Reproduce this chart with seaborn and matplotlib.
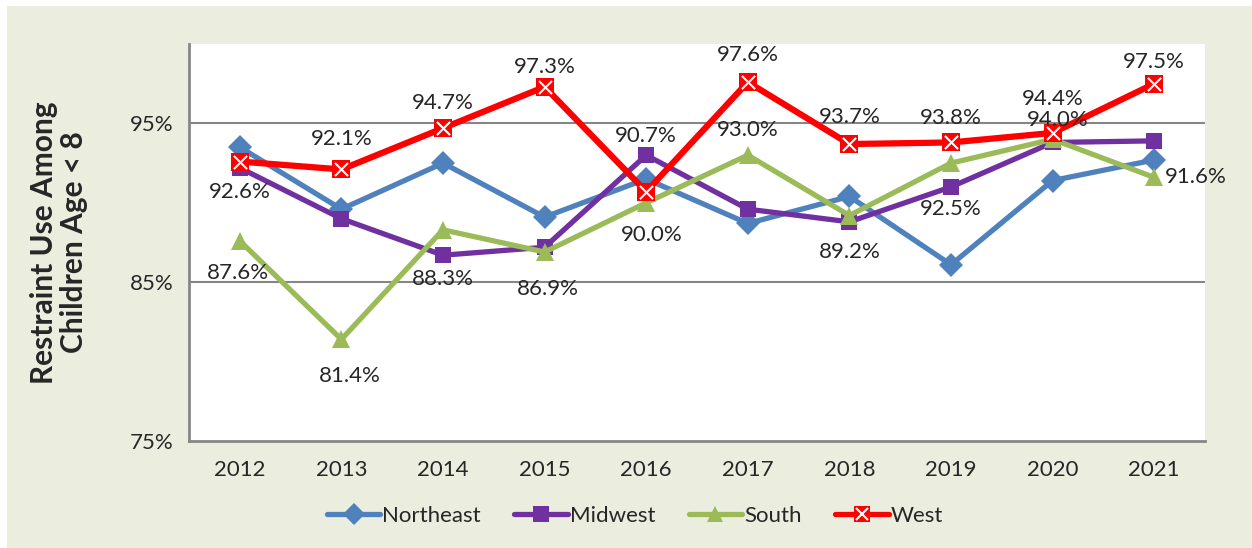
import numpy as np
import pandas as pd
import seaborn as sns
import matplotlib.pyplot as plt
from matplotlib.lines import Line2D
from matplotlib.patches import Rectangle

years = [2012, 2013, 2014, 2015, 2016, 2017, 2018, 2019, 2020, 2021]
northeast = [93.5, 89.6, 92.5, 89.1, 91.5, 88.7, 90.4, 86.1, 91.4, 92.7]
midwest = [92.2, 89.0, 86.7, 87.2, 93.0, 89.6, 88.8, 91.0, 93.8, 93.9]
south = [87.6, 81.4, 88.3, 86.9, 90.0, 93.0, 89.2, 92.5, 94.0, 91.6]
west = [92.6, 92.1, 94.7, 97.3, 90.7, 97.6, 93.7, 93.8, 94.4, 97.5]
regions = ['Northeast', 'Midwest', 'South', 'West']

# label offsets in pixels (x, y) from the marker
west_off = [(0, -30), (0, 30), (0, 25), (0, 20), (0, 56), (0, 27), (0, 27), (0, 24), (0, 34), (0, 22)]
south_off = [(-2, -32), (8, -37), (0, -49), (3, -37), (6, -32), (0, 25), (0, -36), (0, -46), (5, 19), (42, 0)]

df = pd.DataFrame({
    'year': years * 4,
    'value': northeast + midwest + south + west,
    'region': [r for r in regions for _ in years],
})

colors = {'Northeast': '#4F81BD', 'Midwest': '#7030A0', 'South': '#9BBB59', 'West': '#FF0000'}
markers = {'Northeast': 'D', 'Midwest': 's', 'South': '^', 'West': 's'}

sns.set_style('white')
plt.rcParams['font.family'] = ['Lato', 'DejaVu Sans']

fig = plt.figure(figsize=(12.52, 5.48), dpi=100)
fig.patches.append(Rectangle((7 / 1252, 0), 1 - 7 / 1252, 1 - 6 / 548, transform=fig.transFigure,
                             facecolor='#EBEEDF', edgecolor='none', zorder=-1))
ax = fig.add_axes([189 / 1252, 1 - 441 / 548, (1205 - 189) / 1252, (441 - 44) / 548])

sns.lineplot(data=df, x='year', y='value', hue='region', style='region', palette=colors,
             markers=markers, dashes=False, linewidth=3.8, markersize=11, markeredgewidth=0,
             legend=False, ax=ax)
for ln in ax.lines:
    ln.set_solid_capstyle('round')
ax.lines[3].set_linewidth(4.5)
ax.lines[3].set_markersize(13)
ax.lines[0].set_markersize(12)
ax.lines[1].set_markersize(12)
ax.lines[2].set_markersize(13)
sns.scatterplot(x=years, y=west, marker='x', color='white', s=90, linewidth=1.5, zorder=5, ax=ax)

for x, y, (dx, dy) in zip(years, west, west_off):
    ax.annotate(f'{y:.1f}%', (x, y), xytext=(dx, dy), textcoords='offset pixels',
                ha='center', va='center', fontsize=16, zorder=6)
for x, y, (dx, dy) in zip(years, south, south_off):
    ax.annotate(f'{y:.1f}%', (x, y), xytext=(dx, dy), textcoords='offset pixels',
                ha='center', va='center', fontsize=16, zorder=6)

ax.set_xlim(2011.5, 2021.5)
ax.set_ylim(75, 100)
ax.set_yticks([75, 85, 95])
ax.set_yticklabels(['75%', '85%', '95%'], fontsize=16)
ax.set_xticks(np.arange(2011.5, 2022, 1))
ax.set_xticklabels([])
ax.set_xticks(years, minor=True)
ax.set_xticklabels([str(y) for y in years], minor=True, fontsize=16)
ax.tick_params(axis='x', which='minor', length=0, pad=14)
ax.tick_params(axis='x', which='major', length=7, width=1.5, color='#868686', direction='out')
ax.tick_params(axis='y', length=7, width=1.5, color='#868686', direction='out', pad=4)
for y in [85, 95]:
    ax.axhline(y, color='#868686', linewidth=1.5, zorder=0)
for s in ['top', 'right']:
    ax.spines[s].set_visible(False)
for s in ['left', 'bottom']:
    ax.spines[s].set_color('#868686')
    ax.spines[s].set_linewidth(2)
ax.set_xlabel('')
ax.set_ylabel('Restraint Use Among\nChildren Age < 8', fontsize=21.5, fontweight='bold',
              labelpad=30, linespacing=1.1)

handles = []
for r in regions:
    h = Line2D([0], [0], color=colors[r], marker=markers[r], linewidth=3.8, markersize=11,
               markeredgewidth=0, solid_capstyle='round')
    if r == 'West':
        h = (h, Line2D([0], [0], color='white', marker='x', linestyle='none', markersize=9,
                       markeredgewidth=1.5))
    handles.append(h)
fig.legend(handles, regions, loc='center', bbox_to_anchor=(635 / 1252, 1 - 516 / 548), ncol=4,
           frameon=False, fontsize=16, handlelength=2.4, handletextpad=0.1, columnspacing=1.5)

plt.savefig('out.png', dpi=100)
